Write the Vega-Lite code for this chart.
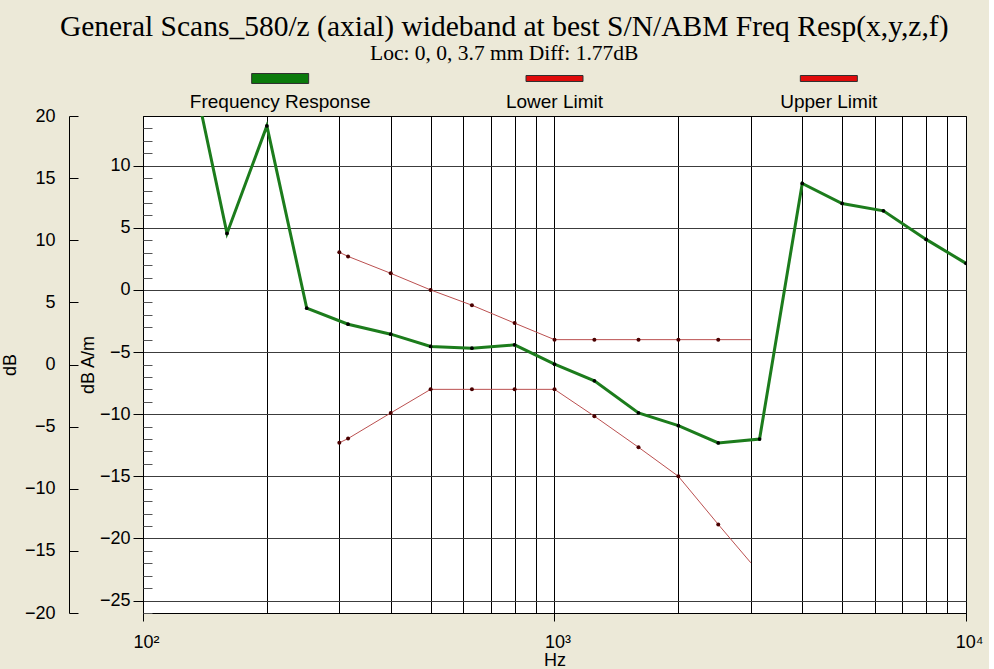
{
  "$schema": "https://vega.github.io/schema/vega-lite/v6.json",
  "background": "#ece9d8",
  "padding": {"left": 0, "top": 12, "right": 5, "bottom": 5},
  "title": {
    "text": "General Scans_580/z (axial) wideband at best S/N/ABM Freq Resp(x,y,z,f)",
    "subtitle": "Loc: 0, 0, 3.7 mm Diff: 1.77dB",
    "font": "Liberation Serif",
    "fontSize": 29.5,
    "fontWeight": "normal",
    "color": "#000",
    "subtitleFont": "Liberation Serif",
    "subtitleFontSize": 21.5,
    "subtitleColor": "#000",
    "subtitlePadding": 0,
    "anchor": "middle",
    "dx": 12,
    "offset": 2
  },
  "config": {
    "view": {"stroke": null},
    "font": "Liberation Sans",
    "axis": {
      "labelFont": "Liberation Sans",
      "titleFont": "Liberation Sans",
      "labelColor": "#000",
      "titleColor": "#000",
      "titleFontWeight": "normal",
      "labelFontSize": 18,
      "titleFontSize": 18,
      "domainColor": "#000",
      "tickColor": "#000"
    }
  },
  "spacing": -7,
  "vconcat": [
    {
      "width": 823,
      "height": 46,
      "data": {"values": [
        {"series": "Frequency Response"},
        {"series": "Lower Limit"},
        {"series": "Upper Limit"}
      ]},
      "encoding": {
        "x": {"field": "series", "type": "nominal",
          "scale": {"type": "band", "paddingInner": 0, "paddingOuter": 0,
            "domain": ["Frequency Response", "Lower Limit", "Upper Limit"]},
          "axis": null}
      },
      "layer": [
        {
          "mark": {"type": "point", "filled": true, "size": 3249, "stroke": "#303030", "strokeWidth": 1, "opacity": 1},
          "encoding": {
            "y": {"datum": "swatch", "type": "nominal",
              "scale": {"type": "point", "domain": ["swatch", "label"], "padding": 0.5}, "axis": null},
            "shape": {"field": "series", "type": "nominal",
              "scale": {"domain": ["Frequency Response", "Lower Limit", "Upper Limit"],
                "range": ["M-1,-0.175L1,-0.175L1,0.175L-1,0.175Z", "M-1,-0.105L1,-0.105L1,0.105L-1,0.105Z", "M-1,-0.105L1,-0.105L1,0.105L-1,0.105Z"]},
              "legend": null},
            "fill": {"field": "series", "type": "nominal",
              "scale": {"domain": ["Frequency Response", "Lower Limit", "Upper Limit"],
                "range": ["#0b7a0b", "#e00b0b", "#e00b0b"]},
              "legend": null}
          }
        },
        {
          "mark": {"type": "text", "fontSize": 19, "font": "Liberation Sans", "color": "#000", "baseline": "middle"},
          "encoding": {
            "y": {"datum": "label", "type": "nominal",
              "scale": {"type": "point", "domain": ["swatch", "label"], "padding": 0.5}, "axis": null},
            "text": {"field": "series", "type": "nominal"}
          }
        }
      ]
    },
    {
      "width": 823,
      "height": 497,
      "view": {"stroke": "#000", "fill": "#fff", "strokeWidth": 1},
      "layer": [
        {
          "data": {"values": [{"db": -20}, {"db": 20}]},
          "mark": {"type": "point", "opacity": 0, "clip": true},
          "encoding": {
            "y": {"field": "db", "type": "quantitative",
              "scale": {"domain": [-20, 20], "nice": false, "zero": false},
              "axis": {"orient": "left", "offset": 74, "title": "dB",
                "values": [-20, -15, -10, -5, 0, 5, 10, 15, 20],
                "tickSize": -9, "labelPadding": 23, "grid": false, "titlePadding": 5}}
          }
        },
        {
          "data": {"values": [
            {"series": "Frequency Response", "f": 125, "v": 21.3},
            {"series": "Frequency Response", "f": 160, "v": 4.55},
            {"series": "Frequency Response", "f": 200, "v": 13.2},
            {"series": "Frequency Response", "f": 250, "v": -1.47},
            {"series": "Frequency Response", "f": 315, "v": -2.76},
            {"series": "Frequency Response", "f": 400, "v": -3.56},
            {"series": "Frequency Response", "f": 500, "v": -4.55},
            {"series": "Frequency Response", "f": 630, "v": -4.69},
            {"series": "Frequency Response", "f": 800, "v": -4.42},
            {"series": "Frequency Response", "f": 1000, "v": -5.97},
            {"series": "Frequency Response", "f": 1250, "v": -7.31},
            {"series": "Frequency Response", "f": 1600, "v": -9.9},
            {"series": "Frequency Response", "f": 2000, "v": -10.92},
            {"series": "Frequency Response", "f": 2500, "v": -12.31},
            {"series": "Frequency Response", "f": 3150, "v": -12.0},
            {"series": "Frequency Response", "f": 4000, "v": 8.57},
            {"series": "Frequency Response", "f": 5000, "v": 6.96},
            {"series": "Frequency Response", "f": 6300, "v": 6.37},
            {"series": "Frequency Response", "f": 8000, "v": 4.07},
            {"series": "Frequency Response", "f": 10000, "v": 2.14},
            {"series": "Upper Limit", "f": 300, "v": 3.03},
            {"series": "Upper Limit", "f": 315, "v": 2.7},
            {"series": "Upper Limit", "f": 400, "v": 1.34},
            {"series": "Upper Limit", "f": 500, "v": 0},
            {"series": "Upper Limit", "f": 630, "v": -1.23},
            {"series": "Upper Limit", "f": 800, "v": -2.67},
            {"series": "Upper Limit", "f": 1000, "v": -4},
            {"series": "Upper Limit", "f": 1250, "v": -4},
            {"series": "Upper Limit", "f": 1600, "v": -4},
            {"series": "Upper Limit", "f": 2000, "v": -4},
            {"series": "Upper Limit", "f": 2500, "v": -4},
            {"series": "Upper Limit", "f": 3000, "v": -4},
            {"series": "Lower Limit", "f": 300, "v": -12.3},
            {"series": "Lower Limit", "f": 315, "v": -11.96},
            {"series": "Lower Limit", "f": 400, "v": -9.9},
            {"series": "Lower Limit", "f": 500, "v": -8},
            {"series": "Lower Limit", "f": 630, "v": -8},
            {"series": "Lower Limit", "f": 800, "v": -8},
            {"series": "Lower Limit", "f": 1000, "v": -8},
            {"series": "Lower Limit", "f": 1250, "v": -10.16},
            {"series": "Lower Limit", "f": 1600, "v": -12.66},
            {"series": "Lower Limit", "f": 2000, "v": -15},
            {"series": "Lower Limit", "f": 2500, "v": -18.87},
            {"series": "Lower Limit", "f": 3000, "v": -21.96}
          ]},
          "encoding": {
            "x": {"field": "f", "type": "quantitative",
              "scale": {"type": "log", "domain": [100, 10000], "nice": false},
              "axis": {"title": "Hz",
                "values": [100, 200, 300, 400, 500, 600, 700, 800, 900, 1000, 2000, 3000, 4000, 5000, 6000, 7000, 8000, 9000, 10000],
                "grid": true, "gridColor": "#000", "gridOpacity": 1, "gridWidth": 1,
                "labelExpr": "datum.value == 100 ? '10²' : datum.value == 1000 ? '10³' : datum.value == 10000 ? '10⁴' : ''",
                "labelFlush": false, "labelOffset": 3, "labelPadding": 12,
                "tickSize": 8,
                "tickOpacity": {"condition": {"test": "indexof([100, 1000, 10000], datum.value) >= 0", "value": 1}, "value": 0},
                "titlePadding": 0}},
            "y": {"field": "v", "type": "quantitative",
              "scale": {"domain": [-26, 14], "nice": false, "zero": false},
              "axis": null}
          },
          "layer": [
            {
              "transform": [{"filter": "datum.series == 'Frequency Response'"}],
              "mark": {"type": "line", "color": "#1c7c1c", "strokeWidth": 3, "clip": true},
              "encoding": {
                "y": {"field": "v", "type": "quantitative",
                  "scale": {"domain": [-26, 14], "nice": false, "zero": false},
                  "axis": {"orient": "left", "title": "dB A/m",
                    "values": [-25, -20, -15, -10, -5, 0, 5, 10],
                    "grid": true, "gridColor": "#3c3c3c", "gridOpacity": 1, "gridWidth": 1,
                    "tickSize": 10, "labelPadding": 3, "titlePadding": 2}}
              }
            },
            {
              "transform": [{"filter": "datum.series == 'Frequency Response'"}],
              "mark": {"type": "point", "filled": true, "color": "#000", "size": 14, "opacity": 1, "clip": true}
            },
            {
              "transform": [{"filter": "datum.series != 'Frequency Response'"}],
              "mark": {"type": "line", "color": "#bb5050", "strokeWidth": 1, "clip": true},
              "encoding": {"detail": {"field": "series", "type": "nominal"}}
            },
            {
              "transform": [{"filter": "datum.series != 'Frequency Response' && datum.f < 3000"}],
              "mark": {"type": "point", "filled": true, "color": "#4a0000", "size": 16, "opacity": 1, "clip": true}
            },
            {
              "mark": {"type": "point", "opacity": 0, "clip": true},
              "encoding": {
                "y": {"field": "v", "type": "quantitative",
                  "scale": {"domain": [-26, 14], "nice": false, "zero": false},
                  "axis": {"orient": "left", "title": null,
                    "values": [-26, -24, -23, -22, -21, -19, -18, -17, -16, -14, -13, -12, -11, -9, -8, -7, -6, -4, -3, -2, -1, 1, 2, 3, 4, 6, 7, 8, 9, 11, 12, 13],
                    "tickSize": -9, "labels": false, "domain": false, "grid": false, "tickColor": "#555"}}
              }
            }
          ],
          "resolve": {"axis": {"y": "independent"}}
        }
      ],
      "resolve": {"scale": {"y": "independent"}}
    }
  ]
}
